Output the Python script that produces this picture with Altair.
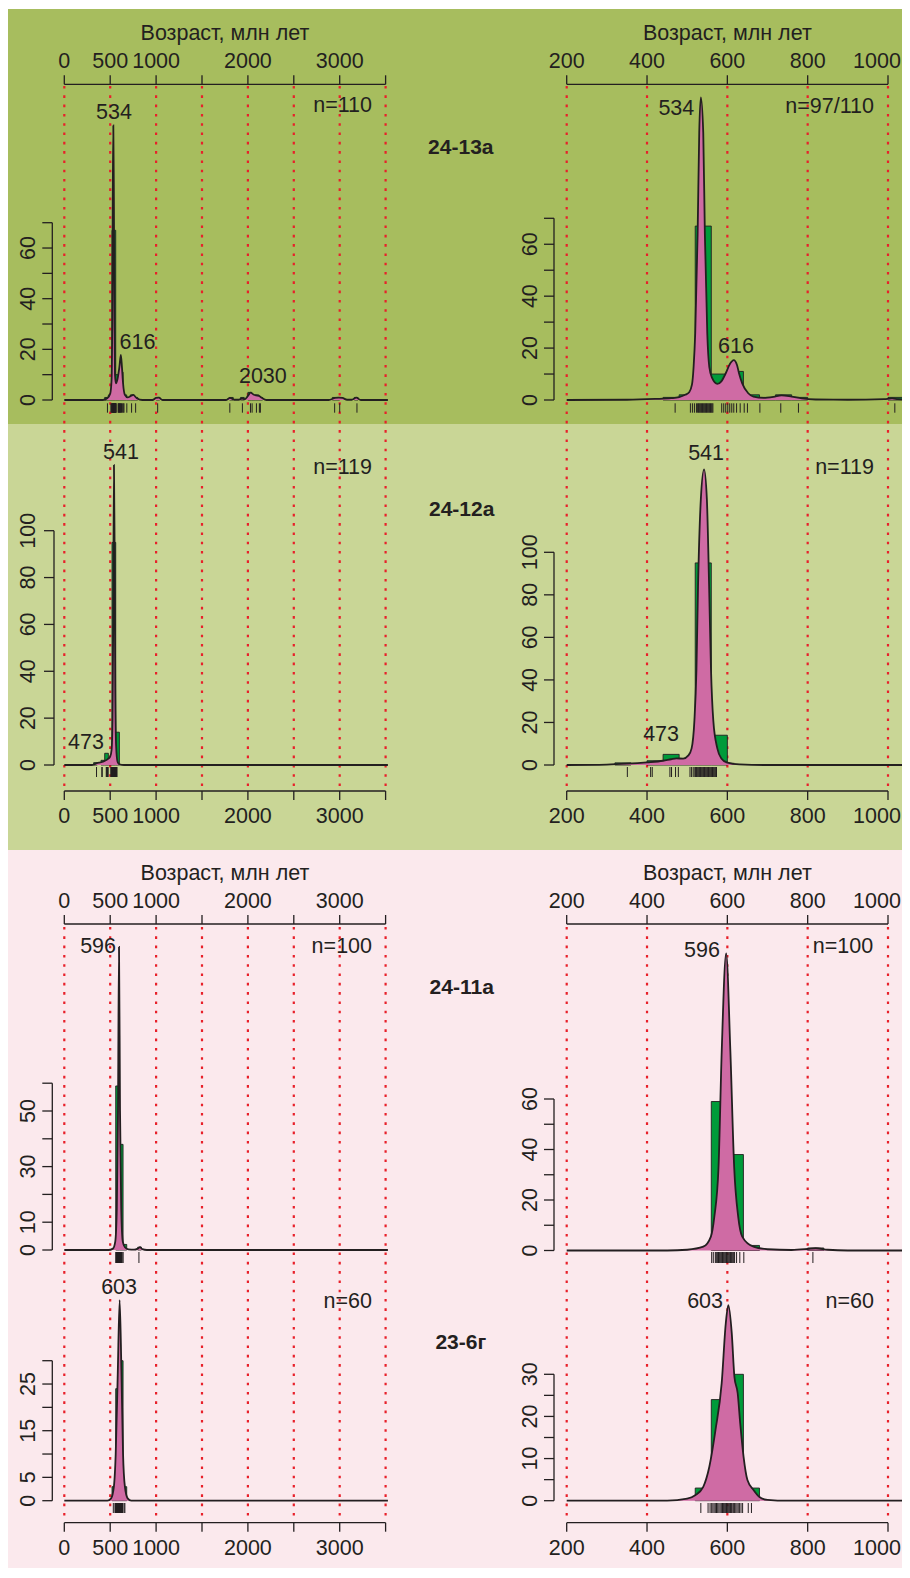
import altair as alt
import pandas as pd

# ---------------- values ----------------
samples = ["24-13а", "24-12а", "24-11а", "23-6г"]
axis_title = "Возраст, млн лет"

x_ticks_full = [0, 500, 1000, 1500, 2000, 2500, 3000, 3500]
x_labels_full = [0, 500, 1000, 2000, 3000]
x_ticks_zoom = [200, 400, 600, 800, 1000]
x_labels_zoom = [200, 400, 600, 800, 1000]

bin_width = 40
hist_13a_lo = [440, 480, 520, 560, 600, 640, 680, 720, 760, 1000, 1800, 1920, 2000, 2040, 2080, 2120, 2920, 2960, 3160]
hist_13a_n = [1, 2, 67, 10, 11, 2, 1, 2, 1, 1, 1, 1, 3, 1, 2, 1, 1, 1, 1]
hist_12a_lo = [320, 400, 440, 480, 520, 560]
hist_12a_n = [1, 2, 5, 2, 95, 14]
hist_11a_lo = [560, 600, 640, 800]
hist_11a_n = [59, 38, 2, 1]
hist_6g_lo = [520, 560, 600, 640]
hist_6g_n = [3, 24, 30, 3]

# KDE curves, full range panels (0-3500)
kde_13a_full_x = [0, 420, 470, 500, 515, 522, 528, 534, 540, 546, 552, 562, 578, 600, 616, 628, 640, 660, 690, 730, 750, 790, 850, 960, 1000, 1030, 1070, 1760, 1805, 1850, 1900, 1935, 1965, 2000, 2030, 2060, 2090, 2120, 2150, 2200, 2880, 2950, 2990, 3030, 3080, 3130, 3180, 3230, 3525]
kde_13a_full_y = [0, 0, 0.8, 2.5, 8, 30, 80, 108.4, 80, 30, 10, 6.6, 8, 13, 17.8, 13, 6.6, 2, 1, 1.7, 2, 0.7, 0, 0, 0.8, 0.9, 0, 0, 0.8, 0.1, 0.1, 0.6, 0.3, 1.6, 2.9, 2.2, 1.8, 1.6, 0.9, 0, 0, 0.8, 0.9, 0.8, 0.1, 0.1, 0.9, 0, 0]
kde_12a_full_x = [0, 300, 350, 420, 470, 500, 515, 525, 533, 541, 548, 555, 565, 580, 600, 650, 3525]
kde_12a_full_y = [0, 0, 0.7, 1.4, 2.4, 3.6, 6.4, 19, 62, 128, 90, 33, 7.8, 1.4, 0.3, 0, 0]
kde_11a_full_x = [0, 480, 530, 555, 572, 585, 596, 607, 620, 637, 660, 700, 760, 800, 825, 850, 900, 3525]
kde_11a_full_y = [0, 0, 0.5, 3, 15, 50, 109, 50, 15, 3, 1, 0.2, 0.1, 0.5, 1, 0.3, 0, 0]
kde_6g_full_x = [0, 470, 510, 540, 560, 582, 603, 622, 640, 660, 690, 730, 3525]
kde_6g_full_y = [0, 0, 0.5, 3, 10, 27, 43, 28, 10, 3, 0.5, 0, 0]

# KDE curves, zoomed panels (200-1000)
kde_13a_zoom_x = [200, 350, 420, 460, 480, 495, 505, 512, 516, 520, 526, 530, 534, 540, 544, 550, 555, 562, 575, 585, 596, 606, 616, 624, 629, 637, 652, 665, 690, 715, 735, 760, 785, 820, 900, 990, 1010, 1025, 1042]
kde_13a_zoom_y = [0, 0.1, 0.4, 0.7, 1.1, 2, 3, 6, 12.8, 25.7, 64, 103, 116.6, 103, 64, 25.7, 12.8, 8.5, 6.2, 7.2, 10.3, 13.8, 15.4, 13.5, 10.3, 6.4, 2.6, 1.3, 0.8, 1.2, 1.8, 1.3, 0.6, 0.2, 0.1, 0.3, 0.6, 0.3, 0.2]
kde_12a_zoom_x = [200, 300, 350, 400, 440, 460, 473, 490, 503, 511, 518, 523, 527, 534, 542, 549, 554.6, 559.3, 565, 575, 585, 600, 630, 700, 1042]
kde_12a_zoom_y = [0, 0.2, 0.6, 1.25, 2, 2.7, 3.1, 3, 4.5, 7.8, 21, 44.7, 84, 125, 139, 125, 84, 44.7, 21, 7.8, 3.1, 1.1, 0.3, 0, 0]
kde_11a_zoom_x = [200, 450, 500, 540, 559, 567.6, 578, 586, 597, 607.5, 617, 627, 637, 665, 700, 760, 800, 820, 850, 900, 1042]
kde_11a_zoom_y = [0, 0, 0.3, 1.5, 5.5, 13.4, 33, 79, 117.7, 79, 33, 13.4, 5.5, 1.5, 0.5, 0.2, 0.6, 0.9, 0.3, 0, 0]
kde_6g_zoom_x = [200, 450, 500, 520, 540, 555, 570.5, 585.9, 596, 602.5, 611, 617.6, 625.7, 632, 640.4, 650, 665.6, 680, 700, 750, 1042]
kde_6g_zoom_y = [0, 0, 0.5, 1.3, 3.3, 8, 16.8, 27.9, 42, 46.4, 39.7, 29.4, 25.5, 18.4, 10.4, 4.9, 2.5, 0.9, 0.2, 0, 0]

# individual ages (rug marks)
rug_13a = [470, 508, 513, 518, 523, 526, 528, 530, 532, 534, 536, 538, 540, 542, 544, 546, 548, 550, 552, 554, 556, 558, 560, 562, 564,
           586, 591, 596, 601, 606, 611, 616, 623, 632, 642, 650, 681, 733, 777, 1017, 1803, 1940, 2028, 2046, 2093, 2125, 2136, 2945, 3000, 3188]
rug_12a = [351, 409, 413, 457, 461, 471, 478, 507, 511, 515, 519, 521, 523, 525, 527, 529, 531, 533, 535, 537, 539, 541, 543, 545,
           547, 549, 551, 553, 555, 557, 559, 561, 563, 565, 567, 569, 571, 573]
rug_11a = [561, 565, 570, 572, 574, 576, 578, 580, 582, 584, 586, 588, 590, 592, 594, 596, 598, 600, 602, 604, 606, 608, 610, 612,
           614, 616, 618, 623, 631, 641, 813]
rug_6g = [534, 552, 557, 561, 564, 567, 570, 573, 576, 579, 582, 585, 588, 590, 592, 594, 596, 598, 600, 602, 604, 606, 608, 610,
          612, 615, 618, 621, 624, 627, 630, 634, 638, 652, 660]

# ---------------- styling / layout ----------------
FONT = "Liberation Sans"
FS = 21.5
INK = "#231f20"
RED = "#e8202a"
BAR = "#009b3a"
PINK = "#cf6ba4"
BG1 = "#a7bd5e"
BG2 = "#c9d696"
BG3 = "#fbe9ed"
W, H = 894, 1560

XL_RANGE = [56.3, 377.6]   # 0 .. 3500
XR_RANGE = [558.7, 880.0]  # 200 .. 1000


def txt(**kw):
    base = dict(font=FONT, fontSize=FS, color=INK)
    base.update(kw)
    return base


def panel(lo, n, kx, ky, rug, xdom, xrng, ydom, yrng, rug_y, peaks, nlab,
          xticks, xlabels, ax_y, ax_dir, lab_y, title_y, yticks, ylabels, ax_x, ylab_x,
          red=None, xmax=4000, last_dx=0):
    xs = alt.Scale(domain=xdom, range=xrng, nice=False, zero=False)
    ys = alt.Scale(domain=ydom, range=yrng, nice=False, zero=False)
    X = lambda f: alt.X(f, scale=xs, axis=None)
    Y = lambda f: alt.Y(f, scale=ys, axis=None)
    layers = []
    if red is not None:
        vals, y0, y1 = red
        layers.append(alt.Chart(pd.DataFrame({"v": vals})).mark_rule(
            color=RED, strokeWidth=2.2, strokeDash=[2.6, 6.7]).encode(
            x=X("v:Q"), y=alt.value(y0), y2=alt.value(y1)))
    bars = pd.DataFrame({"lo": lo, "n": n})
    bars["hi"] = bars["lo"] + bin_width
    bars["z"] = 0
    bars = bars[bars["hi"] <= xmax]
    layers.append(alt.Chart(bars).mark_rect(fill=BAR, stroke=INK, strokeWidth=0.9).encode(
        x=X("lo:Q"), x2="hi:Q", y=Y("n:Q"), y2="z:Q"))
    kde = pd.DataFrame({"x": kx, "y": ky})
    kde["z"] = 0
    layers.append(alt.Chart(kde).mark_area(fill=PINK, interpolate="monotone").encode(
        x=X("x:Q"), y=Y("y:Q"), y2="z:Q"))
    layers.append(alt.Chart(kde).mark_line(color=INK, strokeWidth=1.8, interpolate="monotone").encode(
        x=X("x:Q"), y=Y("y:Q")))
    rdf = pd.DataFrame({"age": [a for a in rug if a <= xmax]})
    layers.append(alt.Chart(rdf).mark_rule(color=INK, strokeWidth=1).encode(
        x=X("age:Q"), y=alt.value(rug_y[0]), y2=alt.value(rug_y[1])))
    pdf = pd.DataFrame(peaks, columns=["t", "x", "y"])
    layers.append(alt.Chart(pdf).mark_text(**txt(align="center", baseline="middle")).encode(
        x=X("x:Q"), y=Y("y:Q"), text="t:N"))
    ndf = pd.DataFrame([nlab], columns=["t", "x", "y"])
    layers.append(alt.Chart(ndf).mark_text(**txt(align="right", baseline="middle")).encode(
        x=X("x:Q"), y=Y("y:Q"), text="t:N"))

    # ---- x axis (drawn through the x scale) ----
    xa = pd.DataFrame({"a": [xticks[0]], "b": [xticks[-1]]})
    layers.append(alt.Chart(xa).mark_rule(color=INK, strokeWidth=1.3).encode(
        x=X("a:Q"), x2="b:Q", y=alt.value(ax_y)))
    xt = pd.DataFrame({"v": xticks, "t": [str(v) if v in xlabels else "" for v in xticks]})
    layers.append(alt.Chart(xt).mark_rule(color=INK, strokeWidth=1.3).encode(
        x=X("v:Q"), y=alt.value(ax_y), y2=alt.value(ax_y + 9 * ax_dir)))
    layers.append(alt.Chart(xt.iloc[:-1]).mark_text(**txt(align="center", baseline="alphabetic")).encode(
        x=X("v:Q"), y=alt.value(lab_y), text="t:N"))
    layers.append(alt.Chart(xt.iloc[-1:]).mark_text(**txt(align="center", baseline="alphabetic", dx=last_dx)).encode(
        x=X("v:Q"), y=alt.value(lab_y), text="t:N"))
    if title_y is not None:
        layers.append(alt.Chart(xa).mark_text(**txt(align="center", baseline="alphabetic")).encode(
            x=alt.value((xrng[0] + xrng[1]) / 2), y=alt.value(title_y), text=alt.value(axis_title)))

    # ---- y axis (drawn through the y scale) ----
    ya = pd.DataFrame({"a": [yticks[0]], "b": [yticks[-1]]})
    layers.append(alt.Chart(ya).mark_rule(color=INK, strokeWidth=1.3).encode(
        y=Y("a:Q"), y2="b:Q", x=alt.value(ax_x)))
    yt = pd.DataFrame({"v": yticks, "t": [str(v) if v in ylabels else "" for v in yticks]})
    layers.append(alt.Chart(yt).mark_rule(color=INK, strokeWidth=1.3).encode(
        y=Y("v:Q"), x=alt.value(ax_x), x2=alt.value(ax_x - 10)))
    layers.append(alt.Chart(yt).mark_text(**txt(align="center", baseline="alphabetic", angle=270)).encode(
        y=Y("v:Q"), x=alt.value(ylab_x), text="t:N"))
    return alt.layer(*layers)


one = pd.DataFrame({"k": [0]})


def band(y0, y1, color):
    return alt.Chart(one).mark_rect(fill=color).encode(
        x=alt.value(0), x2=alt.value(W), y=alt.value(y0), y2=alt.value(y1))


def sample_label(s, x, y):
    return alt.Chart(one).mark_text(**txt(fontSize=21, fontWeight="bold", align="center", baseline="middle")).encode(
        x=alt.value(x), y=alt.value(y), text=alt.value(s))


yt1 = [0, 10, 20, 30, 40, 50, 60, 70]
yt2 = [0, 20, 40, 60, 80, 100]
yt3 = [0, 10, 20, 30, 40, 50, 60]
yt4 = [0, 5, 10, 15, 20, 25, 30]

LX, RX = 44.3, 546.0          # y-axis lines
LLAB, RLAB = 27.0, 528.7      # y-label baselines
EDGE_DX = -11                 # keep the rightmost "1000" inside the canvas

parts = [band(1, 416, BG1), band(416, 842, BG2), band(842, H, BG3)]

# Row 1: 24-13a (top axes)
parts.append(panel(hist_13a_lo, hist_13a_n, kde_13a_full_x, kde_13a_full_y, rug_13a,
                   [0, 3500], XL_RANGE, [0, 70], [392, 214.7], [395.3, 404.7],
                   [("534", 541, 113.5), ("616", 797, 22.5), ("2030", 2163, 9.1)], ("n=110", 3352, 115.9),
                   x_ticks_full, x_labels_full, 76.3, -1, 60.3, 32.0,
                   yt1, [0, 20, 40, 60], LX, LLAB, red=(x_ticks_full, 78, 781)))
parts.append(panel(hist_13a_lo, hist_13a_n, kde_13a_zoom_x, kde_13a_zoom_y, rug_13a,
                   [200, 1000], XR_RANGE, [0, 70], [392, 210.3], [395.3, 404.7],
                   [("534", 473, 112), ("616", 621.6, 20.4)], ("n=97/110", 965, 112.9),
                   x_ticks_zoom, x_labels_zoom, 76.3, -1, 60.3, 32.0,
                   yt1, [0, 20, 40, 60], RX, RLAB, red=(x_ticks_zoom, 78, 781), xmax=1042, last_dx=EDGE_DX))
# Row 2: 24-12a (bottom axes)
parts.append(panel(hist_12a_lo, hist_12a_n, kde_12a_full_x, kde_12a_full_y, rug_12a,
                   [0, 3500], XL_RANGE, [0, 100], [757, 522.7], [759, 769],
                   [("541", 618, 133), ("473", 237, 9.4)], ("n=119", 3352, 126.8),
                   x_ticks_full, x_labels_full, 783, 1, 815.3, None,
                   yt2, yt2, 46.0, LLAB))
parts.append(panel(hist_12a_lo, hist_12a_n, kde_12a_zoom_x, kde_12a_zoom_y, rug_12a,
                   [200, 1000], XR_RANGE, [0, 100], [757, 544.3], [759, 769],
                   [("541", 547, 146), ("473", 435, 14.1)], ("n=119", 965, 139.6),
                   x_ticks_zoom, x_labels_zoom, 783, 1, 815.3, None,
                   yt2, yt2, RX, RLAB, xmax=1042, last_dx=EDGE_DX))
# Row 3: 24-11a (top axes)
parts.append(panel(hist_11a_lo, hist_11a_n, kde_11a_full_x, kde_11a_full_y, rug_11a,
                   [0, 3500], XL_RANGE, [0, 60], [1242, 1075.2], [1244, 1255],
                   [("596", 368, 109.1)], ("n=100", 3352, 109),
                   x_ticks_full, x_labels_full, 916, -1, 900.3, 871.7,
                   yt3, [0, 10, 30, 50], LX, LLAB, red=(x_ticks_full, 919, 1508)))
parts.append(panel(hist_11a_lo, hist_11a_n, kde_11a_zoom_x, kde_11a_zoom_y, rug_11a,
                   [200, 1000], XR_RANGE, [0, 60], [1242.5, 1091], [1244, 1255],
                   [("596", 537, 118.6)], ("n=100", 963, 120.2),
                   x_ticks_zoom, x_labels_zoom, 916, -1, 900.3, 871.7,
                   yt3, [0, 20, 40, 60], RX, RLAB, red=(x_ticks_zoom, 919, 1508), xmax=1042, last_dx=EDGE_DX))
# Row 4: 23-6g (bottom axes)
parts.append(panel(hist_6g_lo, hist_6g_n, kde_6g_full_x, kde_6g_full_y, rug_6g,
                   [0, 3500], XL_RANGE, [0, 30], [1492.7, 1352.7], [1495, 1505],
                   [("603", 597, 45.6)], ("n=60", 3352, 42.6),
                   x_ticks_full, x_labels_full, 1514.7, 1, 1547.0, None,
                   yt4, [0, 5, 15, 25], LX, LLAB))
parts.append(panel(hist_6g_lo, hist_6g_n, kde_6g_zoom_x, kde_6g_zoom_y, rug_6g,
                   [200, 1000], XR_RANGE, [0, 30], [1492.7, 1366.3], [1495, 1505],
                   [("603", 544.6, 47.2)], ("n=60", 965, 47.2),
                   x_ticks_zoom, x_labels_zoom, 1514.7, 1, 1547.0, None,
                   yt4, [0, 10, 20, 30], RX, RLAB, xmax=1042, last_dx=EDGE_DX))

parts += [sample_label(samples[0], 452.8, 140), sample_label(samples[1], 453.7, 502),
          sample_label(samples[2], 453.7, 980.3), sample_label(samples[3], 452.8, 1335.3)]

chart = alt.layer(*parts).resolve_scale(x="independent", y="independent").properties(
    width=W, height=H, padding=0, autosize=alt.AutoSizeParams(type="none")).configure_view(stroke=None)

chart.save("out.html", embed_options={"renderer": "svg", "actions": False})
